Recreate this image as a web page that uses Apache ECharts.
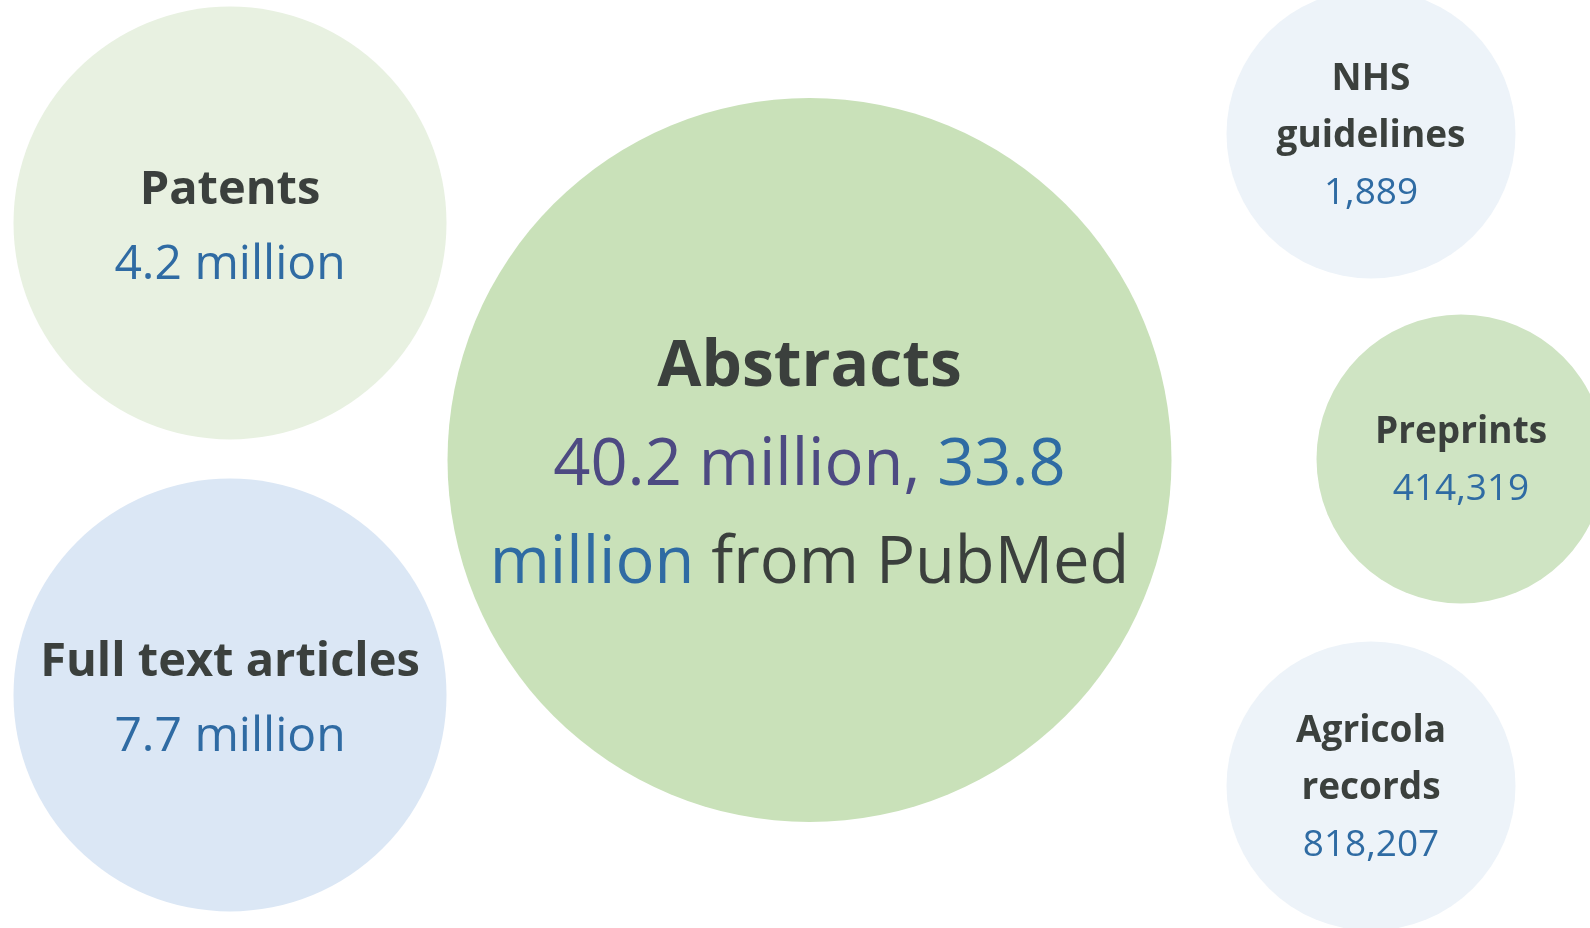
<!DOCTYPE html>
<html>
<head>
<meta charset="utf-8">
<script src="https://cdn.jsdelivr.net/npm/echarts@6/dist/echarts.min.js"></script>
<style>
html,body{margin:0;padding:0;background:#ffffff;}
#chart{width:1590px;height:928px;}
</style>
</head>
<body>
<div id="chart"></div>
<script>
// ---- data ----
const categories = ['Patents', 'Full text articles', 'Abstracts', 'NHS guidelines', 'Preprints', 'Agricola records'];
const titleLines = ['Patents', 'Full text articles', 'Abstracts', 'NHS\nguidelines', 'Preprints', 'Agricola\nrecords'];
const values = [4200000, 7700000, 40200000, 1889, 414319, 818207];
const valueLabels = ['4.2 million', '7.7 million', '40.2 million', '1,889', '414,319', '818,207'];
const pubmedValue = 33800000;
const pubmedLabel = '33.8 million';

// ---- layout (packing positions in chart units, bubble size tiers) ----
const layoutX = [23.0, 23.0, 80.95, 137.1, 146.1, 137.1];
const layoutY = [22.3, 69.5, 46.0, 13.4, 45.9, 78.6];
const tier = ['medium', 'medium', 'large', 'small', 'small', 'small'];

const tierSize = { large: 724, medium: 433, small: 289 };
const tierFont = { large: 64, medium: 47, small: 37 };
const tierValFont = { large: 65, medium: 48, small: 37 };
const tierLine = { large: 98, medium: 74, small: 57 };
const tierShift = { large: 6, medium: 5, small: 2 };
const fills = ['#e8f1e1', '#dbe7f5', '#c9e1b9', '#edf3f9', '#cfe4c3', '#edf3f9'];

const darkText = '#3b403d';
const blueText = '#2f6ba3';
const purpleText = '#4d4a82';
const fontFamily = '"Open Sans", "Noto Sans", sans-serif';

function richFor(t) {
  const f = tierFont[t], v = tierValFont[t], lh = tierLine[t];
  return {
    t: { fontSize: f, fontWeight: 'bold', color: darkText, lineHeight: lh, fontFamily: fontFamily },
    v: { fontSize: v, color: blueText, lineHeight: lh, fontFamily: fontFamily },
    p: { fontSize: v, color: purpleText, lineHeight: lh, fontFamily: fontFamily },
    d: { fontSize: v, color: darkText, lineHeight: lh, fontFamily: fontFamily }
  };
}

const seriesData = categories.map(function (name, i) {
  let fmt;
  if (name === 'Abstracts') {
    const parts = pubmedLabel.split(' ');
    fmt = '{t|' + titleLines[i] + '}\n{p|' + valueLabels[i] + ', }{v|' + parts[0] + '}\n{v|' + parts[1] + ' }{d|from PubMed}';
  } else {
    fmt = titleLines[i].split('\n').map(function (s) { return '{t|' + s + '}'; }).join('\n') + '\n{v|' + valueLabels[i] + '}';
  }
  return {
    name: name,
    value: [layoutX[i], layoutY[i], values[i]],
    symbolSize: tierSize[tier[i]],
    itemStyle: { color: fills[i], opacity: 1 },
    label: {
      show: true,
      position: 'inside',
      align: 'center',
      verticalAlign: 'middle',
      offset: [0, tierShift[tier[i]]],
      opacity: 1,
      formatter: fmt,
      rich: richFor(tier[i])
    }
  };
});

const chart = echarts.init(document.getElementById('chart'), null, { renderer: 'canvas' });
chart.setOption({
  backgroundColor: '#ffffff',
  animation: false,
  grid: { left: 0, right: 0, top: 0, bottom: 0 },
  xAxis: { type: 'value', min: 0, max: 159, show: false },
  yAxis: { type: 'value', min: 0, max: 92.8, inverse: true, show: false },
  series: [{
    type: 'scatter',
    symbol: 'circle',
    clip: false,
    data: seriesData,
    emphasis: { disabled: true }
  }]
});
</script>
</body>
</html>
